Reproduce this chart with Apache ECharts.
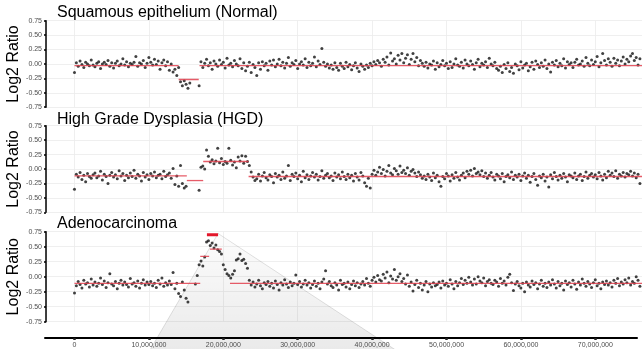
<!DOCTYPE html>
<html>
<head>
<meta charset="utf-8">
<script src="https://cdn.jsdelivr.net/npm/echarts@6/dist/echarts.min.js"></script>
<style>
html, body {margin: 0; padding: 0; background: #fff;}
#chart {width: 642px; height: 349px;}
</style>
</head>
<body>
<div id="chart"></div>
<script>
// bins of 0.25 Mb, log2 ratio x100, null = no bin
var binMb = 0.25;
var panelTitles = ['Squamous epithelium (Normal)', 'High Grade Dysplasia (HGD)', 'Adenocarcinoma'];
var xTicks = [0, 10, 20, 30, 40, 50, 60, 70];

var normalY = [
  -15, 2, -4, 5, -1, -6, 3, 0, -3, 7,
  -2, -5, 1, 4, -8, 0, 3, -1, 6, -4,
  2, -7, 1, 5, -3, 0, 9, -2, 4, -5,
  1, -1, 3, 13, -4, 2, 0, 6, -6, 1,
  11, 3, -2, 8, -1, 5, -9, 2, 7, -3,
  4, -11, 0, -14, -9, -20, -6,
  -31, -38, -29, -35, -42, -33,
  null, null, null, null, -38,
  4, -6, 1, 8, -3, 2, -9, 5, 0, -4,
  7, -1, 3, -7, 10, -2, 1, -5, 6, 0,
  -3, 9, -8, 2, -12, -4, 3, -15, -1, -6,
  -20, 2, -9, 4, -3, 1, -11, 5, -2, 7,
  -5, 0, 8, -3, 3, -7, 1, 11, -4, 2,
  -1, 6, -8, 0, 4, -2, 9, -6, 3, -3,
  1, 12, -5, 5, -1, 27, 3, -4, 0, -7,
  -2, -9, 2, -6, -11, 1, -4, -8, 3, -5,
  -1, -10, -3, 2, -7, -13, 0, -4, -9, -2,
  -6, 1, -3, 4, -1, 6, 2, -4, 8, 3,
  12, -2, 19, 5, 9, 0, 15, 7, 18, 2,
  10, 16, -1, 8, 18, 4, 11, -3, 6, 1,
  -4, 3, -7, 0, -2, 5, -9, 2, -5, -1,
  6, -3, 1, -8, 4, -6, 0, 9, -2, -4,
  3, -7, 7, 0, -3, 5, -1, -9, 2, 8,
  -5, 1, -2, 4, -6, 10, 0, -3, 3, -8,
  -11, -4, -15, -1, -8, 2, -13, -6, -16, 0,
  -3, -10, 4, -7, -2, 1, -12, -5, 3, -9,
  5, -1, -6, 2, -4, 7, -8, 0, -14, 3,
  -2, 6, -5, 1, -3, 9, -7, 4, -1, 2,
  -6, 3, 8, -2, 0, 5, -4, 11, 1, -3,
  7, -1, 4, 13, -5, 2, 18, 6, -2, 9,
  3, -4, 10, 1, 7, -3, 5, 12, 0, 8,
  4, 14, 18, 6, 11, -2, 9
];

var hgdY = [
  -35,
  -9, -14, -6, -18, -11, -22, -8, -13, -16, -10,
  -7, -15, -12, -4, -19, -9, -13, -25, -11, -6,
  -14, -10, -17, -3, -12, -8, -20, -11, -15, -7,
  -13, -2, -16, -9, -12, -21, -6, -14, -10, -18,
  -8, -12, -5, -15, -11, -9, -17, -4, -13, -10,
  -7, -16, 1, -27, -12, -30, 6, -25, -33,
  -30, null, null, null, null, null, null, -37,
  3, 5, 0, 33, 22, 12, 16, 9, 14, 36,
  11, 18, 8, 13, 10, 36, 15, 7, 12, 2,
  21, 14, 23, 10, 22, 13, 6, -5, -14, -20,
  -17, -9, -21, -12, -6, -15, -19, -10, -13, -24,
  -8, -14, -11, -18, -5, -16, -12, 6, -20, -9,
  -13, -7, -17, -11, -22, -4, -15, -10, -18, -12,
  -6, -14, -9, -19, -13, -3, -16, -11, -8, -15,
  -12, -20, -7, -14, -10, -17, -5, -13, -18, -9,
  -15, -11, -21, -8, -14, -19, -6, -12, -24, -30,
  -16, -33, -9, -2, -11, -5, 3, -8, -1, -12,
  -4, 6, -7, -10, 1, -3, -9, 5, -6, -2,
  -8, 2, -11, -4, -1, -7, -13, -5, -10, -16,
  -12, -18, -9, -14, -20, -7, -15, -11, -22, -30,
  -13, -17, -8, -12, -21, -10, -16, -6, -14, -19,
  -11, -7, -15, -4, -9, -2, -12, 1, -8, -5,
  -10, -3, -13, -7, -16, -11, -6, -14, -19, -9,
  -12, -17, -8, -22, -13, -10, -15, -5, -18, -11,
  -14, -9, -20, -12, -7, -16, -11, -23, -13, -8,
  -18, -28, -12, -15, -9, -21, -14, -31, -10, -17,
  -6, -13, -19, -11, -16, -8, -14, -22, -10, -12,
  -15, -7, -18, -12, -9, -20, -13, -5, -16, -11,
  -8, -14, -10, -17, -6, -12, -19, -9, -15, -4,
  -11, -7, -13, -3, -16, -9, -12, -6, -14, -8,
  -10, -4, -12, -7, -15, -9, -25
];

var adenoY = [
  -27,
  -15, -8, -13, -19, -6, -12, -10, -17, -4, -14,
  -9, -16, -11, -2, -13, -7, -18, -10, 5, -12,
  -15, -8, -20, -11, -6, -14, -9, -13, -17, -3,
  -12, -10, -16, -7, -19, -11, -5, -14, -9, -13,
  -8, -15, -11, -18, -6, -12, -2, -16, -10, -14,
  -7, -13, 7, -20, -11, -28, -33, -9, -22, -36,
  -42, null, null, null, -12,
  2, 20, 26, 18, 33, 58, 60, 52, 56, 48,
  53, 45, 42, 38, 20, 12, 5, 2, -2, 4,
  10, 28, 30, 38, 27, 29, 22, 14, -6,
  -14, -9, -17, -12, -6, -15, -20, -10, -13, -8,
  -16, -11, -19, -7, -13, -22, -10, -14, -5, -12,
  -18, -9, -15, -11, 3, -13, -8, -17, -12, -6,
  -14, -10, -19, -13, -7, -16, -11, -20, -9, -4,
  10, -12, -8, -15, -18, -10, -14, -22, -6, -13,
  -11, -17, -9, -20, -13, -7, -15, -10, -18, -12,
  -8, -14, -3, -11, -16, -6, -1, -9, 2, -5,
  -7, 4, -2, 8, -10, 1, -4, 12, -6, 0,
  5, -8, -3, -12, 3, -16, -9, -24, -13, -6,
  -18, -11, -22, -14, -8, -25, -12, -17, -10, -15,
  -13, -9, -19, -7, -14, -11, -16, -5, -12, -20,
  -8, -15, -10, -3, -13, -6, -11, -1, -9, -14,
  -4, -12, 0, -7, -10, -2, -15, -8, -5, -11,
  -13, -6, -9, -16, -3, -11, -7, -14, -1, 4,
  -10, -23, -12, -8, -15, -19, -11, -25, -9, -14,
  -17, -7, -13, -10, -20, -12, -6, -16, -11, -18,
  -9, -14, -5, -12, -19, -8, -15, -11, -22, -7,
  -13, -10, -17, -6, -12, -21, -9, -14, -4, -11,
  -16, -8, -12, -18, -10, -5, -15, -11, -20, -9,
  -13, -7, -14, -10, -17, -6, -11, -3, -15, -9,
  -12, -5, -10, -2, -14, -8, -11, 0, -6, -16
];

// segments: [start Mb, end Mb, log2 ratio]
var normalSeg = [[0, 14.0, -0.03], [14.0, 16.7, -0.27], [16.8, 76.3, -0.03]];
var hgdSeg = [[0, 15.1, -0.12], [15.1, 17.3, -0.20], [17.3, 23.4, 0.13], [23.4, 76.3, -0.13]];
var adenoSeg = [[0, 16.9, -0.11], [16.9, 18.1, 0.34], [17.8, 19.3, 0.70], [18.2, 19.8, 0.46], [20.9, 76.3, -0.11]];

var font = 'Liberation Sans, Arial, sans-serif';
var chart = echarts.init(document.getElementById('chart'));

function toPoints(arr) {
    var out = [];
    for (var i = 0; i < arr.length; i++) {
        if (arr[i] !== null) out.push([i * binMb, arr[i] / 100]);
    }
    return out;
}

function commas(v) {
    var n = Math.round(v * 1e6);
    return String(n).replace(/\B(?=(\d{3})+(?!\d))/g, ',');
}

var panelTops = [20.7, 125.7, 231.7];
var panelHeights = [86.5, 86.6, 90];
var titleTops = [5, 112, 216];
var allY = [normalY, hgdY, adenoY];
var allSeg = [normalSeg, hgdSeg, adenoSeg];

var grids = [], xAxes = [], yAxes = [], titles = [], series = [];
for (var k = 0; k < 3; k++) {
    grids.push({left: 46, right: 0, top: panelTops[k], height: panelHeights[k], containLabel: false, outerBoundsMode: 'none'});
    titles.push({
        text: panelTitles[k], left: 57, top: titleTops[k], padding: 0,
        textStyle: {fontFamily: font, fontSize: 16, fontWeight: 'normal', color: '#000'}
    });
    xAxes.push({
        gridIndex: k, type: 'value', min: -3.83, max: 76.28,
        minInterval: 10, maxInterval: 10, splitNumber: 8,
        axisLine: {show: false, onZero: false}, axisTick: {show: false}, axisLabel: {show: false},
        splitLine: {show: true, lineStyle: {color: '#ebebeb', width: 0.8}}
    });
    yAxes.push({
        gridIndex: k, type: 'value', min: -0.75, max: 0.75, interval: 0.25,
        name: 'Log2 Ratio', nameLocation: 'middle', nameRotate: 90, nameGap: 24,
        nameMoveOverlap: false,
        nameTextStyle: {fontFamily: font, fontSize: 16, color: '#000'},
        axisLine: {show: true, onZero: false, lineStyle: {color: '#000', width: 1.5}},
        axisTick: {show: true, length: 2, lineStyle: {color: '#000', width: 1.5}},
        axisLabel: {
            fontFamily: font, fontSize: 7, color: '#4d4d4d', margin: 4,
            formatter: function (v) { return v.toFixed(2); }
        },
        splitLine: {show: true, lineStyle: {color: '#ebebeb', width: 0.8}}
    });
    series.push({
        type: 'scatter', xAxisIndex: k, yAxisIndex: k,
        symbolSize: 3, itemStyle: {color: '#111'},
        data: toPoints(allY[k]), silent: true, z: 3
    });
    allSeg[k].forEach(function (s) {
        var thick = s[2] > 0.6;
        series.push({
            type: 'line', xAxisIndex: k, yAxisIndex: k, symbol: 'none', silent: true,
            lineStyle: {color: thick ? '#e3172b' : '#e2404e', width: thick ? 3 : 1.3, opacity: thick ? 1 : 0.85},
            data: [[s[0], s[2]], [s[1], s[2]]], z: 4
        });
    });
}

// genome position axis along the bottom
grids.push({left: 45, right: 5, top: 330, height: 8, containLabel: false, outerBoundsMode: 'none'});
xAxes.push({
    gridIndex: 3, type: 'value', min: -3.965, max: 75.6,
    minInterval: 10, maxInterval: 10, splitNumber: 8,
    axisLine: {show: true, onZero: false, lineStyle: {color: '#000', width: 2}},
    axisTick: {show: true, length: 2, customValues: xTicks, lineStyle: {color: '#222', width: 2.5}},
    axisLabel: {
        fontFamily: font, fontSize: 7, color: '#4d4d4d', margin: 4,
        customValues: xTicks, formatter: commas
    },
    splitLine: {show: false}
});
yAxes.push({gridIndex: 3, type: 'value', show: false});

chart.setOption({
    animation: false,
    backgroundColor: '#fff',
    title: titles,
    grid: grids,
    xAxis: xAxes,
    yAxis: yAxes,
    series: series
});

// zoom-out wedge from the amplified segment
var apex = chart.convertToPixel({gridIndex: 2}, [19.3, 0.72]);
chart.setOption({
    graphic: [{
        type: 'polygon', silent: true, z: 0,
        shape: {points: [apex, [143, 362], [414, 362]]},
        style: {
            fill: new echarts.graphic.LinearGradient(0, 0, 0, 1, [
                {offset: 0, color: 'rgba(0,0,0,0.01)'},
                {offset: 1, color: 'rgba(0,0,0,0.09)'}
            ]),
            stroke: 'rgba(0,0,0,0.15)', lineWidth: 0.8
        }
    }]
});
</script>
</body>
</html>
